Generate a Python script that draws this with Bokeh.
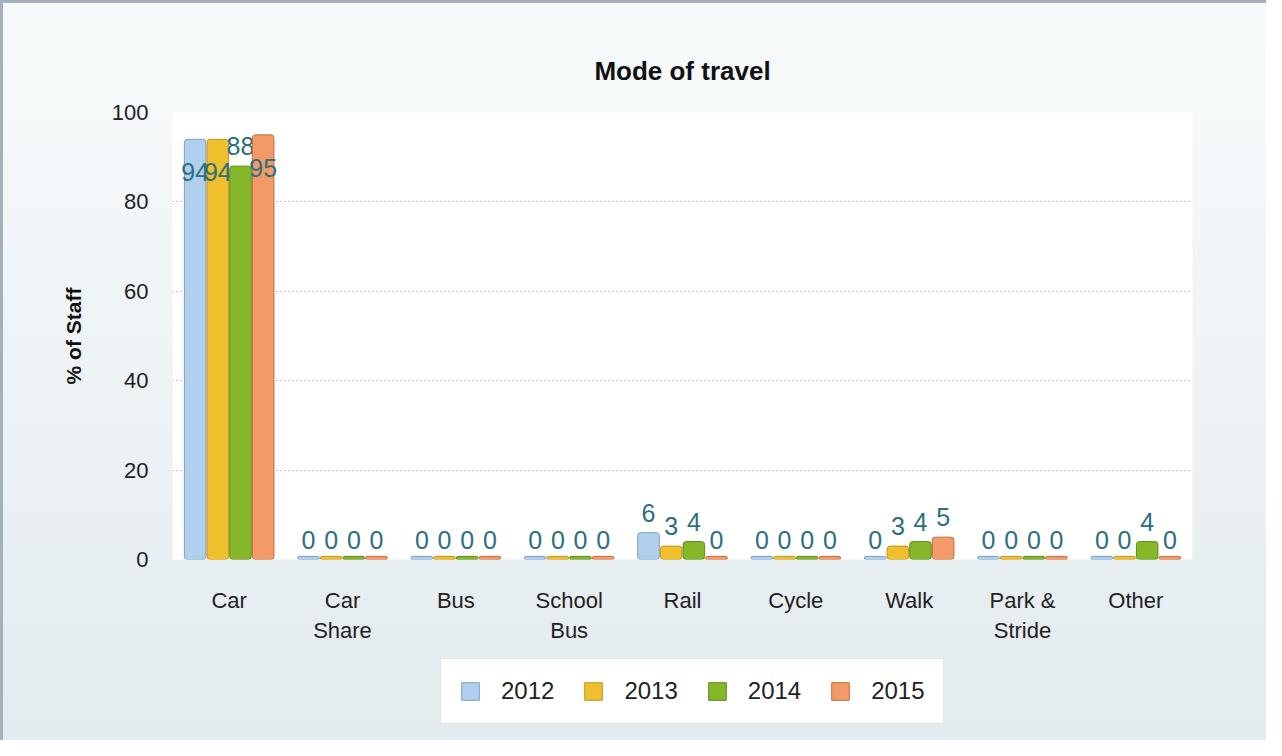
from bokeh.plotting import figure
from bokeh.models import ColumnDataSource, FixedTicker, Legend, LegendItem, Range1d
from bokeh.layouts import column
from bokeh.transform import dodge
from bokeh.core.properties import value
from bokeh.embed import file_html
from bokeh.resources import INLINE

categories = ["Car", "Car\nShare", "Bus", "School\nBus", "Rail", "Cycle", "Walk", "Park &\nStride", "Other"]
years = ["2012", "2013", "2014", "2015"]
v2012 = [94, 0, 0, 0, 6, 0, 0, 0, 0]
v2013 = [94, 0, 0, 0, 3, 0, 3, 0, 0]
v2014 = [88, 0, 0, 0, 4, 0, 4, 0, 4]
v2015 = [95, 0, 0, 0, 0, 0, 5, 0, 0]
series = [v2012, v2013, v2014, v2015]
y_ticks = [0, 20, 40, 60, 80, 100]

fills = ["#b0cfee", "#efbf2e", "#86b62a", "#f29a68"]
lines = ["#7d9fc2", "#c2951a", "#5e8c14", "#c86b3c"]
offsets = [-0.3, -0.1, 0.1, 0.3]
FONT = "Liberation Sans"
LABEL_COLOR = "#2b6f80"

p = figure(x_range=categories, y_range=(0, 100), frame_width=1020, frame_height=447,
           output_backend="svg", toolbar_location=None,
           min_border_left=169, min_border_right=74, min_border_top=109, min_border_bottom=90,
           title="Mode of travel")
p.border_fill_alpha = 0
p.background_fill_color = "white"
p.outline_line_color = None

p.title.align = "center"
p.title.text_font = FONT
p.title.text_font_size = "26px"
p.title.text_font_style = "bold"
p.title.text_color = "#111111"
p.title.standoff = 54

p.x_range.range_padding = 0
p.xgrid.grid_line_color = None
p.ygrid.ticker = FixedTicker(ticks=[20, 40, 60, 80])
p.ygrid.grid_line_color = "#8c8c8c"
p.ygrid.grid_line_dash = "1 3"
p.ygrid.grid_line_width = 1

p.yaxis.ticker = FixedTicker(ticks=y_ticks)
for ax in (p.xaxis, p.yaxis):
    ax.axis_line_color = None
    ax.major_tick_line_color = None
    ax.minor_tick_line_color = None
    ax.major_label_text_font = FONT
    ax.major_label_text_font_size = "22px"
    ax.major_label_text_color = "#222222"
p.xaxis.major_label_standoff = 22
p.yaxis.major_label_standoff = 18
p.yaxis.axis_label = "% of Staff"
p.yaxis.axis_label_text_font = FONT
p.yaxis.axis_label_text_font_size = "21px"
p.yaxis.axis_label_text_font_style = "bold"
p.yaxis.axis_label_text_color = "#111111"
p.yaxis.axis_label_standoff = 24

# legend-only strip below the chart
lg = figure(x_range=Range1d(0, 1), y_range=Range1d(0, 1), frame_width=1263, frame_height=91,
            output_backend="svg", toolbar_location=None,
            min_border_left=0, min_border_right=0, min_border_top=0, min_border_bottom=0,
            x_axis_location=None, y_axis_location=None)
lg.border_fill_alpha = 0
lg.background_fill_alpha = 0
lg.outline_line_color = None
lg.xgrid.grid_line_color = None
lg.ygrid.grid_line_color = None

items = []
for yr, vals, off, fc, lc in zip(years, series, offsets, fills, lines):
    src = ColumnDataSource(dict(
        cat=categories,
        val=vals,
        top=[max(v, 0.7) for v in vals],
    ))
    p.vbar(x=dodge("cat", off, range=p.x_range), top="top", bottom=0, width=0.19,
           source=src, fill_color=fc, line_color=lc, line_width=1, border_radius=3)
    out_idx = [i for i, v in enumerate(vals) if v <= 90]
    in_idx = [i for i, v in enumerate(vals) if v > 90]
    out_src = ColumnDataSource(dict(cat=[categories[i] for i in out_idx],
                                    val=[vals[i] for i in out_idx],
                                    lab=[str(vals[i]) for i in out_idx]))
    in_src = ColumnDataSource(dict(cat=[categories[i] for i in in_idx],
                                   val=[vals[i] for i in in_idx],
                                   lab=[str(vals[i]) for i in in_idx]))
    p.text(x=dodge("cat", off, range=p.x_range), y="val", text="lab", source=out_src,
           text_align="center", text_baseline="bottom", y_offset=-11,
           text_font=value(FONT), text_font_size="25px", text_color=LABEL_COLOR)
    p.text(x=dodge("cat", off, range=p.x_range), y="val", text="lab", source=in_src,
           text_align="center", text_baseline="top", y_offset=24,
           text_font=value(FONT), text_font_size="25px", text_color=LABEL_COLOR)
    # off-range renderer only used to draw the legend swatch
    lr = lg.vbar(x=[5], top=[5], bottom=[4], width=0.1, fill_color=fc, line_color=lc, line_width=1)
    items.append(LegendItem(label=yr, renderers=[lr]))

legend = Legend(items=items, orientation="horizontal", location=(437, 16),
                label_text_font=FONT, label_text_font_size="24px", label_text_color="#222222",
                glyph_width=22, glyph_height=22, label_standoff=20, spacing=28,
                padding=18, margin=0, border_line_color="#c8c8c8", border_line_width=1,
                background_fill_color="white", background_fill_alpha=1)
lg.add_layout(legend)

layout = column(p, lg, spacing=0,
                styles={"background": "linear-gradient(#f8fbfc, #e3ebef)",
                        "border-top": "3px solid #a3b1bb", "border-left": "3px solid #a3b1bb"})

open("out.html", "w").write(file_html(layout, INLINE))
